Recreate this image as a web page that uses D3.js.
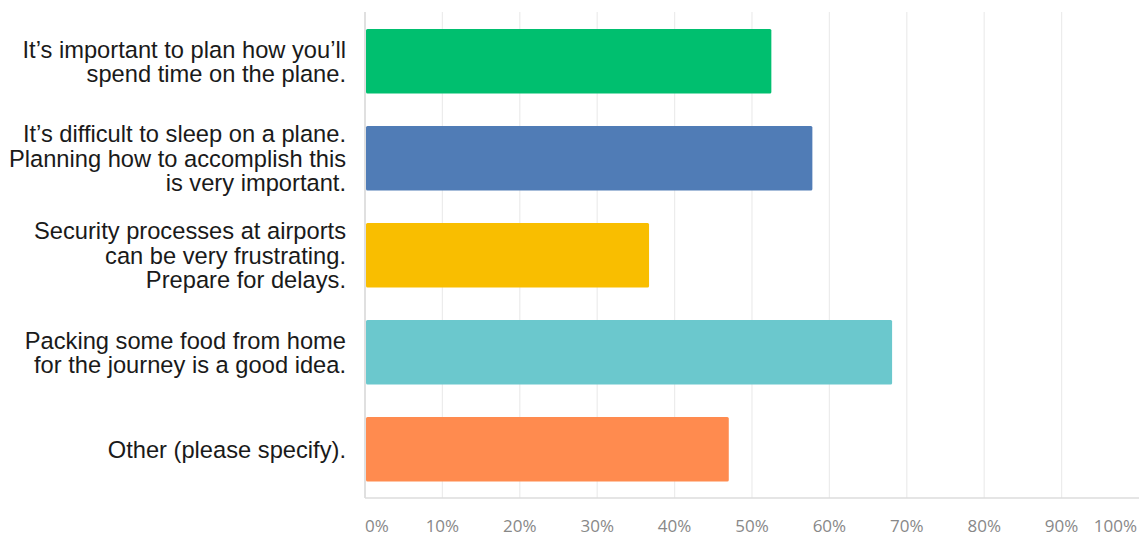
<!DOCTYPE html>
<html>
<head>
<meta charset="utf-8">
<script src="https://cdn.jsdelivr.net/npm/d3@7"></script>
<style>
  html, body { margin: 0; padding: 0; background: #fff; }
  svg { display: block; }
</style>
</head>
<body>
<svg id="chart" width="1142" height="538"></svg>
<script>
const categories = [
  "It’s important to plan how you’ll\nspend time on the plane.",
  "It’s difficult to sleep on a plane.\nPlanning how to accomplish this\nis very important.",
  "Security processes at airports\ncan be very frustrating.\nPrepare for delays.",
  "Packing some food from home\nfor the journey is a good idea.",
  "Other (please specify)."
];
const values = [52.5, 57.8, 36.7, 68.1, 47.0];
const colors = ["#00bf6f", "#507cb6", "#f9be00", "#6bc8cd", "#ff8b4f"];
const tickValues = [0, 10, 20, 30, 40, 50, 60, 70, 80, 90, 100];
const tickLabels = ["0%", "10%", "20%", "30%", "40%", "50%", "60%", "70%", "80%", "90%", "100%"];

const svg = d3.select("#chart");
const x = d3.scaleLinear().domain([0, 100]).range([365, 1139]);
const y = d3.scaleBand().domain(d3.range(categories.length))
  .range([12.5, 498]).paddingInner(0.335).paddingOuter(0.17);

// gridlines
svg.append("g").selectAll("line").data(tickValues.slice(1, -1)).join("line")
  .attr("x1", d => x(d)).attr("x2", d => x(d))
  .attr("y1", 12).attr("y2", 498)
  .attr("stroke", "#ececec").attr("stroke-width", 1.2);

// left axis line
svg.append("line").attr("x1", x(0)).attr("x2", x(0)).attr("y1", 12).attr("y2", 498)
  .attr("stroke", "#d6d6d6").attr("stroke-width", 1.5);
// bottom axis line
svg.append("line").attr("x1", x(0)).attr("x2", x(100)).attr("y1", 498).attr("y2", 498)
  .attr("stroke", "#dcdcdc").attr("stroke-width", 1.5);

// bars
svg.append("g").selectAll("rect").data(values).join("rect")
  .attr("x", x(0) + 1)
  .attr("y", (d, i) => y(i))
  .attr("width", d => x(d) - x(0) - 1)
  .attr("height", y.bandwidth())
  .attr("rx", 1.5)
  .attr("fill", (d, i) => colors[i]);

// category labels
const lh = 24.5;
const lab = svg.append("g").selectAll("text").data(categories).join("text")
  .attr("text-anchor", "end")
  .attr("font-family", "'Liberation Sans', Arial, sans-serif")
  .attr("font-size", "23.7px")
  .attr("fill", "#1a1a1a");
lab.each(function(d, i) {
  const lines = d.split("\n");
  const cy = y(i) + y.bandwidth() / 2;
  d3.select(this).selectAll("tspan").data(lines).join("tspan")
    .attr("x", 346)
    .attr("y", (l, j) => cy + (j - (lines.length - 1) / 2) * lh)
    .attr("dy", "0.36em")
    .text(l => l);
});

// tick labels
svg.append("g").selectAll("text").data(tickValues).join("text")
  .attr("x", d => d === 0 ? x(0) : (d === 100 ? x(100) - 2 : x(d)))
  .attr("y", 526)
  .attr("dy", "0.35em")
  .attr("text-anchor", d => d === 0 ? "start" : (d === 100 ? "end" : "middle"))
  .attr("font-family", "'Open Sans', sans-serif")
  .attr("font-size", "17px")
  .attr("fill", "#888888")
  .text((d, i) => tickLabels[i]);
</script>
</body>
</html>
